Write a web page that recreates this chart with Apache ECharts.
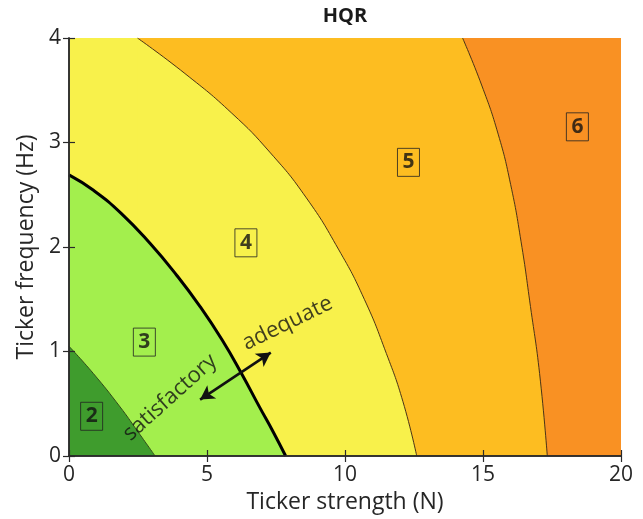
<!DOCTYPE html>
<html>
<head>
<meta charset="utf-8">
<script src="https://cdn.jsdelivr.net/npm/echarts@6/dist/echarts.min.js"></script>
<style>
  html, body { margin: 0; padding: 0; background: #ffffff; }
  #chart { width: 643px; height: 519px; }
</style>
</head>
<body>
<div id="chart"></div>
<script>
// Axis ranges and tick labels
var xTicks = [0, 5, 10, 15, 20];
var yTicks = [0, 1, 2, 3, 4];

// HQR contour boundaries: [strength (N), frequency (Hz)]
var level23 = [[0, 1.05], [0.88, 0.79], [1.85, 0.47], [2.45, 0.25], [3.12, 0]];
var level34 = [[0, 2.69], [0.9, 2.54], [1.9, 2.32], [2.95, 2.03], [3.9, 1.73], [4.75, 1.43],
               [5.55, 1.11], [6.25, 0.79], [6.9, 0.47], [7.4, 0.23], [7.85, 0]];
var level45 = [[2.48, 4], [4.2, 3.66], [5.9, 3.28], [7.3, 2.90], [8.6, 2.47], [9.76, 1.98],
               [10.7, 1.50], [11.5, 0.98], [12.1, 0.52], [12.6, 0]];
var level56 = [[14.26, 4], [14.95, 3.55], [15.55, 3.08], [16.0, 2.6], [16.38, 2.05],
               [16.72, 1.43], [17.05, 0.79], [17.33, 0]];

// Region numbers placed inside each band
var regionLabels = [[0.82, 0.38, '2'], [2.73, 1.09, '3'], [6.41, 2.04, '4'], [12.3, 2.81, '5'], [18.42, 3.15, '6']];

// Annotation words and the arrow across the 3/4 boundary
var wordSatisfactory = [3.66, 0.56, 'satisfactory'];
var wordAdequate = [7.92, 1.27, 'adequate'];
var arrowEnds = [[4.75, 0.54], [7.31, 0.99]];

var colors = {
  r2: '#3f9c2d', r3: '#a3ef4d', r4: '#f8f14b', r5: '#fdbd21', r6: '#f99123'
};
var fontFamily = '"Open Sans", "Noto Sans", sans-serif';
var axisColor = '#2a2a2a';
var textColor = '#262626';
var contourColor = '#4a3418';

var yTop = yTicks[yTicks.length - 1];
var xRight = xTicks[xTicks.length - 1];
// tiny overlap so a block and its curved band join without an anti-aliasing seam
var seamOverlap = 0.03;

// Filled area under a (smoothed) boundary, down to the x axis.
function curveBand(points, color, lineColor, lineWidth) {
  return {
    type: 'line',
    data: points,
    showSymbol: false,
    symbol: 'none',
    smooth: 0.5,
    silent: true,
    z: 3,
    lineStyle: { color: lineColor, width: lineWidth },
    areaStyle: { color: color, opacity: 1, origin: 'start' }
  };
}

// Full-height block from x = 0 up to where a boundary leaves the top edge.
function blockBand(xEnd, color) {
  return {
    type: 'line',
    data: [[xTicks[0], yTop], [xEnd, yTop]],
    showSymbol: false,
    symbol: 'none',
    silent: true,
    z: 2,
    lineStyle: { width: 0, color: color },
    areaStyle: { color: color, opacity: 1, origin: 'start' }
  };
}

function axisCommon(extra) {
  var a = {
    type: 'value', z: 10,
    axisLine: { show: true, lineStyle: { color: axisColor, width: 1.5 } },
    axisTick: { show: true, inside: true, length: 6, lineStyle: { color: axisColor, width: 1.2 } },
    axisLabel: { show: false },
    splitLine: { show: false }
  };
  for (var k in extra) a[k] = extra[k];
  return a;
}

var chart = echarts.init(document.getElementById('chart'), null, { renderer: 'canvas' });

var option = {
  animation: false,
  backgroundColor: '#ffffff',
  title: {
    text: 'HQR',
    left: 345,
    textAlign: 'center',
    top: 6,
    padding: 0,
    textStyle: { fontFamily: fontFamily, fontWeight: 'bold', fontSize: 20, color: '#1a1a1a' }
  },
  grid: { left: 69, right: 22, top: 38, bottom: 63, containLabel: false },
  xAxis: [
    axisCommon({
      min: xTicks[0], max: xRight, interval: 5, position: 'bottom',
      name: 'Ticker strength (N)', nameLocation: 'middle', nameGap: 27,
      nameTextStyle: { fontFamily: fontFamily, fontSize: 23, color: textColor },
      axisLabel: { show: true, fontFamily: fontFamily, fontSize: 21, color: textColor, margin: 9 }
    }),
    axisCommon({ min: xTicks[0], max: xRight, interval: 5, position: 'top' })
  ],
  yAxis: [
    axisCommon({
      min: yTicks[0], max: yTop, interval: 1, position: 'left',
      name: 'Ticker frequency (Hz)', nameLocation: 'middle', nameGap: 29,
      nameTextStyle: { fontFamily: fontFamily, fontSize: 23, color: textColor },
      axisLabel: { show: true, fontFamily: fontFamily, fontSize: 21, color: textColor, margin: 8 }
    }),
    axisCommon({ min: yTicks[0], max: yTop, interval: 1, position: 'right' })
  ],
  series: [
    // band 6: whole plot area
    blockBand(xRight, colors.r6),
    // band 5
    curveBand(level56, colors.r5, contourColor, 1),
    blockBand(level56[0][0] + seamOverlap, colors.r5),
    // band 4
    curveBand(level45, colors.r4, contourColor, 1),
    blockBand(level45[0][0] + seamOverlap, colors.r4),
    // band 3 (bold boundary between satisfactory and adequate)
    curveBand(level34, colors.r3, '#000000', 3),
    // band 2
    curveBand(level23, colors.r2, '#2f4a1a', 1),
    // double-headed arrow across the bold boundary
    {
      type: 'line',
      data: [],
      silent: true,
      z: 4,
      markLine: {
        silent: true,
        symbol: ['arrow', 'arrow'],
        symbolSize: [12, 14],
        label: { show: false },
        lineStyle: { color: '#111111', width: 2.6, type: 'solid' },
        data: [[{ coord: arrowEnds[0] }, { coord: arrowEnds[1] }]]
      }
    },
    // boxed region numbers
    {
      type: 'scatter',
      data: regionLabels,
      symbolSize: 0,
      silent: true,
      z: 5,
      label: {
        show: true,
        position: 'inside',
        formatter: function (p) { return p.data[2]; },
        fontFamily: fontFamily,
        fontWeight: 'bold',
        fontSize: 21,
        lineHeight: 22,
        color: '#111111',
        borderColor: '#222222',
        borderWidth: 1,
        padding: [4, 5, 2, 5]
      }
    },
    // rotated annotation words
    {
      type: 'scatter',
      data: [wordSatisfactory],
      symbolSize: 0,
      silent: true,
      z: 5,
      label: {
        show: true, position: 'inside', rotate: 42,
        formatter: function (p) { return p.data[2]; },
        fontFamily: fontFamily, fontSize: 22, color: '#111111'
      }
    },
    {
      type: 'scatter',
      data: [wordAdequate],
      symbolSize: 0,
      silent: true,
      z: 5,
      label: {
        show: true, position: 'inside', rotate: 26,
        formatter: function (p) { return p.data[2]; },
        fontFamily: fontFamily, fontSize: 22, color: '#111111'
      }
    }
  ]
};

chart.setOption(option);
</script>
</body>
</html>
